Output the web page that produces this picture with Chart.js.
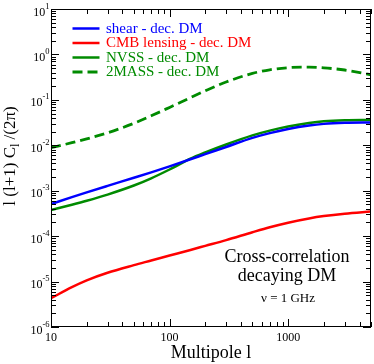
<!DOCTYPE html>
<html>
<head>
<meta charset="utf-8">
<script src="https://cdn.jsdelivr.net/npm/chart.js@4.4.0/dist/chart.umd.min.js"></script>
<style>
    html, body { margin: 0; padding: 0; background: #fff; }
</style>
</head>
<body>
<canvas id="grafico" width="374" height="364"></canvas>
<script>
// multipolos y espectros cruzados
const multipolos = [10, 15, 20, 30, 50, 70, 100, 150, 200, 300, 500, 700, 1000, 1500, 2000, 3000, 5000];
const shear = [5.1e-4, 7.23e-4, 9.2e-4, 1.28e-3, 1.93e-3, 2.54e-3, 3.44e-3, 4.92e-3, 6.38e-3, 9.18e-3, 0.01456, 0.01854, 0.0228, 0.0272, 0.0296, 0.0313, 0.0318];
const cmbLensing = [4.29e-6, 7.55e-6, 1.067e-5, 1.567e-5, 2.30e-5, 2.91e-5, 3.74e-5, 4.97e-5, 6.11e-5, 8.18e-5, 1.22e-4, 1.57e-4, 1.98e-4, 2.45e-4, 2.76e-4, 3.12e-4, 3.49e-4];
const nvss = [3.77e-4, 4.92e-4, 6.01e-4, 8.22e-4, 1.30e-3, 1.875e-3, 2.93e-3, 5.07e-3, 6.95e-3, 0.01042, 0.01652, 0.02104, 0.02588, 0.03083, 0.03365, 0.03565, 0.03622];
const twoMass = [8.85e-3, 0.01138, 0.01384, 0.01875, 0.0305, 0.0445, 0.0682, 0.1119, 0.158, 0.247, 0.382, 0.459, 0.511, 0.525, 0.507, 0.454, 0.357];

const etiquetas = ['shear - dec. DM', 'CMB lensing - dec. DM', 'NVSS - dec. DM', '2MASS - dec. DM'];
const xTicks = [10, 100, 1000];
const xTickLabels = ['10', '100', '1000'];
const yExponentes = [1, 0, -1, -2, -3, -4, -5, -6];
const anotacion = ['Cross-correlation', 'decaying DM'];
const anotacionNu = '\u03bd = 1 GHz';

const AZUL = 'rgb(0,0,255)';
const ROJO = 'rgb(255,0,0)';
const VERDE = 'rgb(0,139,0)';
const SERIF = '"Liberation Serif", "Times New Roman", serif';

function puntos(valores) {
    return multipolos.map((l, i) => ({ x: l, y: valores[i] }));
}

function serie(label, valores, color, dash) {
    return {
        label: label,
        data: puntos(valores),
        borderColor: color,
        borderWidth: dash ? 2.8 : 2.5,
        borderDash: dash || [],
        pointRadius: 0,
        fill: false,
        cubicInterpolationMode: 'monotone'
    };
}

// ejes, marcas, textos y leyenda dibujados a mano
const marcoPlugin = {
    id: 'marco',
    afterDraw(chart) {
        const ctx = chart.ctx;
        const a = chart.chartArea;
        const sx = chart.scales.x;
        const sy = chart.scales.y;
        ctx.save();
        ctx.strokeStyle = '#000';
        ctx.lineWidth = 1;
        ctx.strokeRect(a.left + 0.5, a.top + 0.5, a.right - a.left - 1, a.bottom - a.top - 1);

        ctx.beginPath();
        for (let d = 1; d <= 3; d++) {
            for (let m = 1; m <= 9; m++) {
                const v = m * Math.pow(10, d);
                if (v < sx.min || v > sx.max) continue;
                const px = Math.round(sx.getPixelForValue(v)) + 0.5;
                const len = m === 1 ? 8 : 5;
                ctx.moveTo(px, a.bottom); ctx.lineTo(px, a.bottom - len);
                ctx.moveTo(px, a.top); ctx.lineTo(px, a.top + len);
            }
        }
        for (let d = -6; d <= 1; d++) {
            for (let m = 1; m <= 9; m++) {
                const v = m * Math.pow(10, d);
                if (v < sy.min * 0.999 || v > sy.max * 1.001) continue;
                const py = Math.round(sy.getPixelForValue(v)) + 0.5;
                const len = m === 1 ? 8 : 5;
                ctx.moveTo(a.left, py); ctx.lineTo(a.left + len, py);
                ctx.moveTo(a.right, py); ctx.lineTo(a.right - len, py);
            }
        }
        ctx.stroke();

        // etiquetas del eje x
        ctx.fillStyle = '#000';
        ctx.font = '12px ' + SERIF;
        ctx.textAlign = 'center';
        ctx.textBaseline = 'alphabetic';
        xTicks.forEach((v, i) => {
            ctx.fillText(xTickLabels[i], sx.getPixelForValue(v), a.bottom + 13.5);
        });

        // etiquetas del eje y: 10 con exponente
        ctx.textAlign = 'right';
        yExponentes.forEach(e => {
            const py = sy.getPixelForValue(Math.pow(10, e));
            ctx.font = '8.5px ' + SERIF;
            const sup = String(e);
            const w = ctx.measureText(sup).width;
            ctx.fillText(sup, 49.5, py - 0.5);
            ctx.font = '12px ' + SERIF;
            ctx.fillText('10', 49.5 - w, py + 6.5);
        });

        // titulo eje x
        ctx.textAlign = 'center';
        ctx.font = '18px ' + SERIF;
        ctx.fillText('Multipole l', (a.left + a.right) / 2, 358);

        // titulo eje y, rotado
        ctx.save();
        ctx.translate(15, 156);
        ctx.rotate(-Math.PI / 2);
        ctx.textAlign = 'left';
        const partes = [
            { t: 'l (l+1) C', f: '17px ', dy: 0 },
            { t: 'l', f: '12px ', dy: 4 },
            { t: ' /(2\u03c0)', f: '17px ', dy: 0 }
        ];
        let total = 0;
        partes.forEach(p => { ctx.font = p.f + SERIF; p.w = ctx.measureText(p.t).width; total += p.w; });
        let cx = -total / 2;
        partes.forEach(p => {
            ctx.font = p.f + SERIF;
            ctx.fillText(p.t, cx, p.dy);
            cx += p.w;
        });
        ctx.restore();

        // anotacion
        ctx.textAlign = 'center';
        ctx.font = '18px ' + SERIF;
        ctx.fillText(anotacion[0], 287, 261.5);
        ctx.fillText(anotacion[1], 287, 280.5);
        ctx.font = '13px ' + SERIF;
        ctx.fillText(anotacionNu, 288, 301.5);

        // leyenda
        ctx.textAlign = 'left';
        ctx.font = '15px ' + SERIF;
        chart.data.datasets.forEach((ds, i) => {
            const y = 28.5 + i * 14.5;
            ctx.strokeStyle = ds.borderColor;
            ctx.lineWidth = ds.borderWidth;
            ctx.setLineDash(ds.borderDash);
            ctx.beginPath();
            ctx.moveTo(72.5, y);
            ctx.lineTo(99.5, y);
            ctx.stroke();
            ctx.setLineDash([]);
            ctx.fillStyle = ds.borderColor;
            ctx.fillText(ds.label, 106, y + 4);
        });
        ctx.restore();
    }
};

const ctx = document.getElementById('grafico').getContext('2d');
window.grafico = new Chart(ctx, {
    type: 'line',
    data: {
        datasets: [
            serie(etiquetas[0], shear, AZUL),
            serie(etiquetas[1], cmbLensing, ROJO),
            serie(etiquetas[2], nvss, VERDE),
            serie(etiquetas[3], twoMass, VERDE, [10, 5])
        ]
    },
    options: {
        responsive: false,
        animation: false,
        devicePixelRatio: 1,
        layout: { padding: { left: 51, top: 9, right: 3, bottom: 37 } },
        plugins: {
            legend: { display: false },
            tooltip: { enabled: false }
        },
        scales: {
            x: { type: 'logarithmic', min: 10, max: 5000, display: false },
            y: { type: 'logarithmic', min: 1e-6, max: 10, display: false }
        }
    },
    plugins: [marcoPlugin]
});
</script>
</body>
</html>
